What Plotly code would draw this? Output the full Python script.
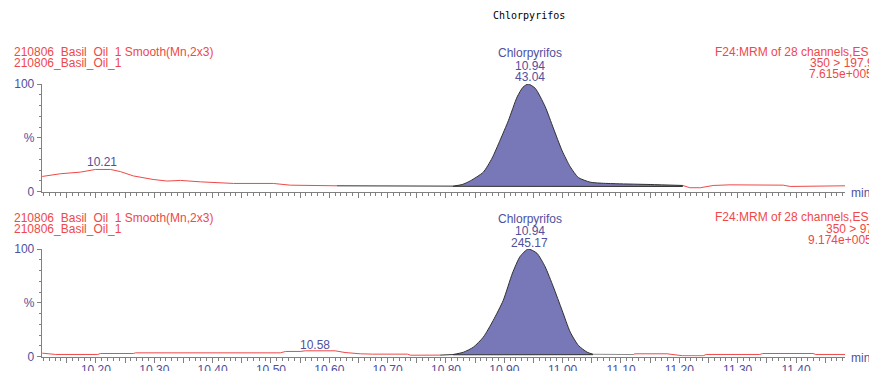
import numpy as np
import plotly.graph_objects as go

W, H = 869, 371

# ---------------- data ----------------
x_range = [10.107, 11.484]
x_major_ticks = [10.15, 10.20, 10.25, 10.30, 10.35, 10.40, 10.45, 10.50, 10.55, 10.60,
                 10.65, 10.70, 10.75, 10.80, 10.85, 10.90, 10.95, 11.00, 11.05, 11.10,
                 11.15, 11.20, 11.25, 11.30, 11.35, 11.40, 11.45]
x_tick_labels = ["", "10.20", "", "10.30", "", "10.40", "", "10.50", "", "10.60",
                 "", "10.70", "", "10.80", "", "10.90", "", "11.00", "", "11.10",
                 "", "11.20", "", "11.30", "", "11.40", ""]
y_ticks = [0, 50, 100]
y_tick_labels = ["0", "%", "100"]

top_t = [10.108, 10.139, 10.173, 10.199, 10.225, 10.242, 10.264, 10.298, 10.322, 10.345,
         10.379, 10.436, 10.504, 10.533, 10.613, 10.768, 10.812, 10.828, 10.842, 10.864,
         10.879, 10.893, 10.907, 10.922, 10.932, 10.941, 10.953, 10.970, 10.984, 10.999,
         11.013, 11.027, 11.047, 11.064, 11.093, 11.150, 11.206, 11.218, 11.236, 11.258,
         11.287, 11.321, 11.378, 11.390, 11.446, 11.484]
top_v = [14.0, 16.5, 18.0, 20.5, 20.5, 18.5, 14.5, 11.2, 9.7, 10.3,
         9.0, 7.5, 7.5, 5.9, 5.3, 4.9, 5.0, 6.5, 10.0, 18.0,
         31.0, 48.0, 66.0, 88.0, 97.0, 100.0, 96.0, 79.0, 59.0, 38.0,
         23.0, 13.0, 8.7, 7.8, 7.2, 6.5, 5.6, 3.5, 3.5, 5.6,
         6.2, 6.2, 5.9, 4.7, 4.7, 5.3]
top_base_t = [10.812, 11.206]
top_base_v = [4.8, 4.7]

bot_t = [10.108, 10.131, 10.203, 10.208, 10.264, 10.268, 10.516, 10.525, 10.550, 10.559,
         10.610, 10.627, 10.653, 10.674, 10.734, 10.739, 10.790, 10.812, 10.830, 10.847,
         10.864, 10.881, 10.898, 10.914, 10.927, 10.941, 10.956, 10.970, 10.984, 10.999,
         11.013, 11.027, 11.042, 11.052, 11.121, 11.124, 11.179, 11.201, 11.206, 11.241,
         11.246, 11.338, 11.343, 11.429, 11.434, 11.484]
bot_v = [3.1, 1.9, 1.9, 2.8, 2.8, 3.4, 3.4, 4.7, 4.7, 5.3,
         5.3, 3.7, 2.5, 2.2, 2.2, 1.2, 1.3, 1.8, 4.0, 8.7,
         18.0, 33.6, 52.0, 77.6, 93.0, 100.0, 96.0, 83.5, 64.8, 43.0,
         22.7, 10.3, 4.0, 2.1, 1.8, 2.5, 2.5, 1.6, 0.7, 0.7,
         1.9, 1.9, 2.8, 2.8, 1.9, 1.9]
bot_base_t = [10.812, 11.052]
bot_base_v = [1.6, 1.7]

RED = "#ef4848"
BLUE_TXT = "#50509e"
FILL = "#7878b8"
DARK = "#303030"
GRAY = "#8a8a8a"
AX = "#808080"
FONT = "Liberation Sans, Arial, sans-serif"

# segments: (start, end, style)  style: 'red', 'dark', 'gray', 'peak'
top_segments = [(10.0, 10.613, "red"), (10.613, 10.812, "dark"),
                (10.812, 11.206, "peak"), (11.206, 12.0, "red")]
bot_segments = [(10.0, 10.790, "red"), (10.790, 10.812, "dark"),
                (10.812, 11.052, "peak"), (11.052, 11.121, "gray"), (11.121, 12.0, "red")]


def part(t, v, a, b):
    xs = [ti for ti in t if a <= ti <= b]
    ys = [vi for ti, vi in zip(t, v) if a <= ti <= b]
    return xs, ys


fig = go.Figure()


def add_panel(t, v, segs, base_t, base_v, xa, ya):
    for a, b, style in segs:
        xs, ys = part(t, v, a, b)
        if style == "peak":
            fig.add_trace(go.Scatter(x=base_t, y=base_v, mode="lines",
                                     line=dict(color=DARK, width=1),
                                     xaxis=xa, yaxis=ya, hoverinfo="skip", showlegend=False))
            fig.add_trace(go.Scatter(x=xs, y=ys, mode="lines", fill="tonexty",
                                     fillcolor=FILL,
                                     line=dict(color=DARK, width=1, shape="spline", smoothing=0.6),
                                     xaxis=xa, yaxis=ya, hoverinfo="skip", showlegend=False))
        else:
            col = {"red": RED, "dark": DARK, "gray": GRAY}[style]
            fig.add_trace(go.Scatter(x=xs, y=ys, mode="lines",
                                     line=dict(color=col, width=1),
                                     xaxis=xa, yaxis=ya, hoverinfo="skip", showlegend=False))


add_panel(top_t, top_v, top_segments, top_base_t, top_base_v, "x", "y")
add_panel(bot_t, bot_v, bot_segments, bot_base_t, bot_base_v, "x2", "y2")

xdom = [41.7 / W, 845 / W]
top_dom = [1 - 191.5 / H, 1 - 84 / H]
bot_dom = [1 - 356.5 / H, 1 - 249 / H]


def xaxis_cfg(anchor, labels):
    return dict(domain=xdom, range=x_range, anchor=anchor, showgrid=False, zeroline=False,
                showline=True, linecolor=AX, linewidth=1, automargin=False,
                tickmode="array", tickvals=x_major_ticks,
                ticktext=x_tick_labels if labels else [""] * len(x_major_ticks),
                ticks="outside", ticklen=5, tickcolor=AX, tickwidth=1,
                ticklabelstandoff=-3,
                tickfont=dict(family=FONT, size=12, color=BLUE_TXT),
                minor=dict(tickmode="linear", tick0=10.0, dtick=0.01, ticks="outside",
                           ticklen=3, tickcolor=AX, tickwidth=1, showgrid=False),
                fixedrange=True)


def yaxis_cfg(anchor, dom):
    return dict(domain=dom, range=[0, 100], anchor=anchor, showgrid=False, zeroline=False,
                showline=True, linecolor=AX, linewidth=1, automargin=False,
                tickmode="array", tickvals=y_ticks, ticktext=y_tick_labels,
                ticks="outside", ticklen=4, tickcolor=AX, tickwidth=1,
                tickfont=dict(family=FONT, size=12, color=BLUE_TXT),
                minor=dict(tickmode="linear", tick0=0, dtick=10, ticks="outside",
                           ticklen=2, tickcolor=AX, tickwidth=1, showgrid=False),
                fixedrange=True)


def P(x, y):
    return x / W, 1 - y / H


annos = []


def note(text, x, y, color, xanchor="center", size=12, family=FONT):
    px_, py_ = P(x, y)
    annos.append(dict(text=text, x=px_, y=py_, xref="paper", yref="paper",
                      xanchor=xanchor, yanchor="middle", showarrow=False,
                      font=dict(family=family, size=size, color=color)))


NB = "\u00a0"
head1 = "210806" + NB * 2 + "Basil" + NB * 2 + "Oil" + NB * 2 + "1 Smooth(Mn,2x3)"
head2 = "210806_Basil_Oil_1"

note("Chlorpyrifos", 529, 16, "#000000", size=10, family="DejaVu Sans Mono, monospace")

# top panel texts
note(head1, 12, 52, RED, "left")
note(head2, 12, 63, RED, "left")
note("F24:MRM of 28 channels,ES+", 713, 52, RED, "left")
note("350 > 197.9", 808, 63, RED, "left")
note("7.615e+005", 807, 74, RED, "left")
note("Chlorpyrifos", 529.5, 53, BLUE_TXT)
note("10.94", 529.5, 65.5, BLUE_TXT)
note("43.04", 529.5, 77, BLUE_TXT)
note("10.21", 101.5, 162.5, BLUE_TXT)
note("min", 849, 193, BLUE_TXT, "left")

# bottom panel texts
note(head1, 12, 218, RED, "left")
note(head2, 12, 229, RED, "left")
note("F24:MRM of 28 channels,ES+", 713, 217.5, RED, "left")
note("350 > 97.0", 824, 228.5, RED, "left")
note("9.174e+005", 806, 240, RED, "left")
note("Chlorpyrifos", 529.5, 219, BLUE_TXT)
note("10.94", 529.5, 231, BLUE_TXT)
note("245.17", 529.5, 242.5, BLUE_TXT)
note("10.58", 315, 345, BLUE_TXT)
note("min", 849, 358, BLUE_TXT, "left")

fig.update_layout(
    width=W, height=H,
    margin=dict(l=0, r=0, t=0, b=0, autoexpand=False),
    paper_bgcolor="white", plot_bgcolor="white",
    xaxis=xaxis_cfg("y", False),
    yaxis=yaxis_cfg("x", top_dom),
    xaxis2=xaxis_cfg("y2", True),
    yaxis2=yaxis_cfg("x2", bot_dom),
    annotations=annos,
    showlegend=False,
    font=dict(family=FONT, size=12),
)

fig.write_html("out.html",
               config={"displayModeBar": False, "staticPlot": True},
               post_script="document.body.style.margin='0px';document.body.style.overflow='hidden';")
